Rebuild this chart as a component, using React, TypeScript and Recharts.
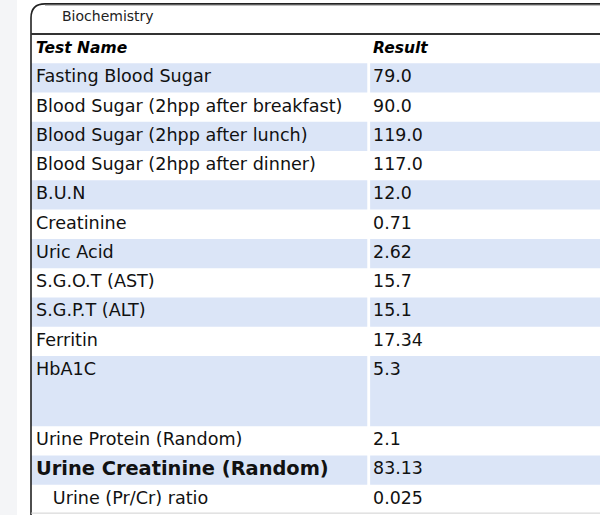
import React from "react";
import { ComposedChart, XAxis, YAxis, Scatter, ReferenceArea, ReferenceLine } from "recharts";

const panelTitle = "Biochemistry";
const columnHeaders = ["Test Name", "Result"];
const testNames = [
  "Fasting Blood Sugar",
  "Blood Sugar (2hpp after breakfast)",
  "Blood Sugar (2hpp after lunch)",
  "Blood Sugar (2hpp after dinner)",
  "B.U.N",
  "Creatinine",
  "Uric Acid",
  "S.G.O.T (AST)",
  "S.G.P.T (ALT)",
  "Ferritin",
  "HbA1C",
  "Urine Protein (Random)",
  "Urine Creatinine (Random)",
  "\u00a0\u00a0\u00a0Urine (Pr/Cr) ratio",
];
const results = ["79.0", "90.0", "119.0", "117.0", "12.0", "0.71", "2.62", "15.7", "15.1", "17.34", "5.3", "2.1", "83.13", "0.025"];
const rowSpans = [1, 1, 1, 1, 1, 1, 1, 1, 1, 1, 2.4, 1, 1, 1];
const emphasizedTest = "Urine Creatinine (Random)";

// layout constants
const W = 600;
const H = 515;
const COL_SPLIT = 0.596;
const GAP = 0.005;
const TAB_UNITS = 1.03;
const STRIPE = "#dbe5f7";
const FONT = "DejaVu Sans";

// derived row geometry (in row units)
const starts: number[] = [];
{
  let acc = 1; // header occupies 0..1
  rowSpans.forEach((s) => {
    starts.push(acc);
    acc += s;
  });
}
const TOTAL = 1 + rowSpans.reduce((a, b) => a + b, 0);

const nameData = testNames.map((n, i) => ({ x: 0, y: starts[i], label: n }));
const resultData = results.map((r, i) => ({ x: COL_SPLIT, y: starts[i], label: r }));
const headerData = columnHeaders.map((h, i) => ({ x: i === 0 ? 0 : COL_SPLIT, y: 0, label: h }));

const NameShape = (p: any) => {
  const bold = p.payload.label === emphasizedTest;
  return (
    <text
      x={p.cx + 5}
      y={p.cy + (bold ? 20 : 19)}
      fontFamily={FONT}
      fontSize={bold ? 19.4 : 17.6}
      fontWeight={bold ? "bold" : "normal"}
      fill="#111"
    >
      {p.payload.label}
    </text>
  );
};

const ResultShape = (p: any) => (
  <text x={p.cx + 3} y={p.cy + 19} fontFamily={FONT} fontSize={17.4} fill="#111">
    {p.payload.label}
  </text>
);

const HeaderShape = (p: any) => (
  <text
    x={p.cx + (p.payload.x === 0 ? 5 : 3)}
    y={p.cy + 19}
    fontFamily={FONT}
    fontSize={15.5}
    fontWeight="bold"
    fontStyle="italic"
    fill="#000"
  >
    {p.payload.label}
  </text>
);

const FrameShape = (p: any) => {
  const x = p.x;
  const y = p.y;
  const r = 14;
  const bottom = y + p.height + 2;
  return (
    <g>
      <path
        d={`M ${x} ${bottom} L ${x} ${y + r} Q ${x} ${y} ${x + r} ${y} L ${x + p.width} ${y}`}
        fill="none"
        stroke="#222"
        strokeWidth={1.6}
      />
      <line x1={x + r} y1={y + 1.6} x2={x + p.width} y2={y + 1.6} stroke="#bbb" strokeWidth={1} />
      <text x={x + 31} y={y + 17} fontFamily={FONT} fontSize={14} fill="#222">
        {panelTitle}
      </text>
    </g>
  );
};

export default function App() {
  return (
    <div style={{ position: "absolute", left: 0, top: 0, width: W, height: H, background: "#fff" }}>
      <div style={{ position: "absolute", left: 0, top: 0, width: 17, height: H, background: "#f4f5f7" }} />
      <div style={{ position: "absolute", left: 0, top: 0 }}>
        <ComposedChart width={W} height={H} margin={{ top: 34, right: 0, bottom: 1, left: 31 }}>
          <XAxis type="number" dataKey="x" domain={[0, 1]} hide allowDataOverflow />
          <YAxis type="number" dataKey="y" domain={[0, TOTAL]} reversed hide allowDataOverflow />
          {testNames.map((n, i) =>
            i % 2 === 0 ? (
              <ReferenceArea
                key={"a" + i}
                x1={0}
                x2={COL_SPLIT - GAP}
                y1={starts[i]}
                y2={starts[i] + rowSpans[i]}
                fill={STRIPE}
                fillOpacity={1}
                stroke="none"
                ifOverflow="visible"
              />
            ) : null
          )}
          {testNames.map((n, i) =>
            i % 2 === 0 ? (
              <ReferenceArea
                key={"b" + i}
                x1={COL_SPLIT}
                x2={1}
                y1={starts[i]}
                y2={starts[i] + rowSpans[i]}
                fill={STRIPE}
                fillOpacity={1}
                stroke="none"
                ifOverflow="visible"
              />
            ) : null
          )}
          <ReferenceLine y={0} stroke="#333" strokeWidth={2} ifOverflow="visible" />
          <ReferenceLine y={TOTAL - 0.03} stroke="#d0d0d0" strokeWidth={1} ifOverflow="visible" />
          <ReferenceArea
            x1={0}
            x2={1}
            y1={-TAB_UNITS}
            y2={TOTAL}
            ifOverflow="visible"
            shape={FrameShape}
          />
          <Scatter data={headerData} shape={HeaderShape} isAnimationActive={false} />
          <Scatter data={nameData} shape={NameShape} isAnimationActive={false} />
          <Scatter data={resultData} shape={ResultShape} isAnimationActive={false} />
        </ComposedChart>
      </div>
    </div>
  );
}
